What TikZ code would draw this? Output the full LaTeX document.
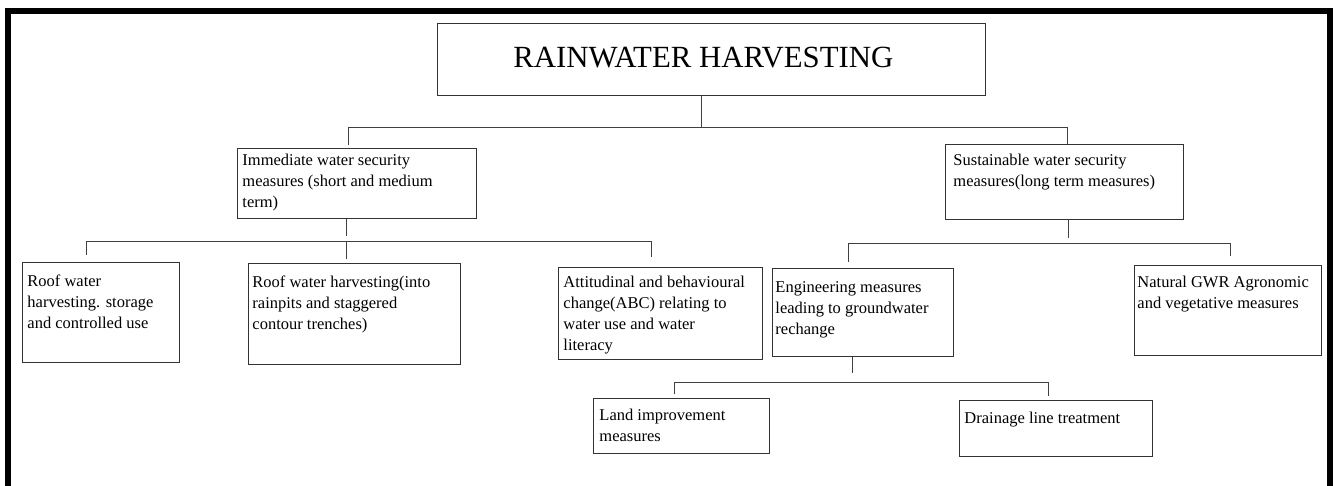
\documentclass[tikz,border=0pt]{standalone}
\usepackage{fontspec}
\setmainfont{Liberation Serif}

% box content: width, height, left gap, top gap, lines
\newcommand{\cell}[5]{\parbox[c][#2pt][t]{#1pt}{\vspace*{#4pt}\hspace*{#3pt}\begin{tabular}[t]{@{}l@{}}#5\end{tabular}}}

\tikzset{
  box/.style={draw=black!80, line width=0.9pt, inner sep=0pt, anchor=north west,
    font=\fontsize{16.5}{20.7}\selectfont},
  link/.style={draw=black!75, line width=0.9pt},
  frame/.style={line width=5.5pt}
}

\begin{document}
\begin{tikzpicture}[x=1pt,y=-1pt]
\useasboundingbox (0,0) rectangle (1333,486);
\draw[frame] (8,486) -- (8,11) -- (1330,11) -- (1330,486);

% boxes
\node[box, font=\fontsize{30.8}{30}\selectfont] (title) at (437,23)
  {\cell{548}{72}{76}{23}{RAINWATER HARVESTING}};
\node[box] (imm) at (237,148)
  {\cell{239}{70}{5}{3}{Immediate water security\\ measures (short and medium\\ term)}};
\node[box] (sus) at (945,144)
  {\cell{238}{75}{8}{7}{Sustainable water security\\ measures(long term measures)}};
\node[box] (roofa) at (22,262)
  {\cell{157}{100}{5}{10}{Roof water\\ harvesting. storage\\ and controlled use}};
\node[box] (roofb) at (248,263)
  {\cell{212}{101}{4}{10}{Roof water harvesting(into\\ rainpits and staggered\\ contour trenches)}};
\node[box] (abc) at (558,267)
  {\cell{204}{92}{5}{6}{Attitudinal and behavioural\\ change(ABC) relating to\\ water use and water\\ literacy}};
\node[box] (eng) at (772,268)
  {\cell{181}{88}{3}{10}{Engineering measures\\ leading to groundwater\\ rechange}};
\node[box] (gwr) at (1134,265)
  {\cell{187}{90}{3}{8}{Natural GWR Agronomic\\ and vegetative measures}};
\node[box] (land) at (593,398)
  {\cell{176}{55}{6}{8}{Land improvement\\ measures}};
\node[box] (drain) at (959,400)
  {\cell{193}{56}{5}{9}{Drainage line treatment}};

% buses
\coordinate (rhL) at (348,127);  \coordinate (rhR) at (1067,127);  \coordinate (rhB) at (701,127);
\coordinate (imL) at (86,241);   \coordinate (imR) at (651,241);   \coordinate (imB) at (346,241);
\coordinate (suL) at (848,243);  \coordinate (suR) at (1230,243);  \coordinate (suB) at (1068,243);
\coordinate (enL) at (674,382);  \coordinate (enR) at (1048,382);  \coordinate (enB) at (852,382);

\draw[link] (title.south -| rhB) -- (rhB);
\draw[link, shorten >=5pt] (imm.south -| imB) -- (imB);
\draw[link, shorten >=5pt] (sus.south -| suB) -- (suB);
\draw[link, shorten >=9pt] (eng.south -| enB) -- (enB);

\foreach \l/\r in {rhL/rhR, imL/imR, suL/suR, enL/enR}
  \draw[link] (\l) -- (\r);

\foreach \c/\n/\g in {rhL/imm/3, rhR/sus/0, imL/roofa/7, imB/roofb/4, imR/abc/10,
                      suL/eng/6, suR/gwr/9, enL/land/4, enR/drain/4}
  \draw[link, shorten >=\g pt] (\c) -- (\c |- \n.north);
\end{tikzpicture}
\end{document}
